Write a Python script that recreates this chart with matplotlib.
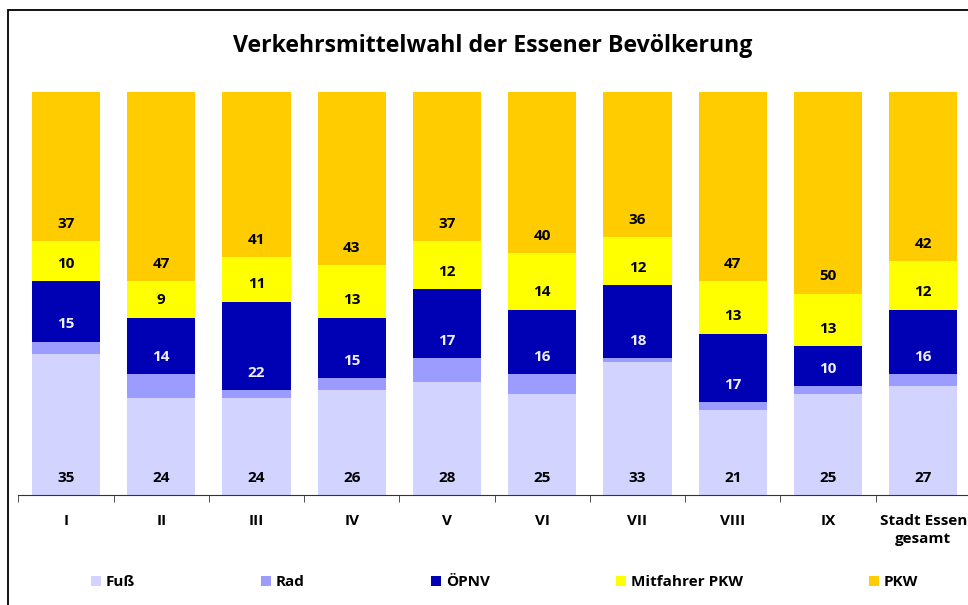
import matplotlib.pyplot as plt
from matplotlib.patches import Rectangle, Patch
import numpy as np

plt.rcParams['font.family'] = ['Open Sans', 'DejaVu Sans']
plt.rcParams['font.weight'] = 'bold'

# Data: share of trips per mode in percent
districts = ['I', 'II', 'III', 'IV', 'V', 'VI', 'VII', 'VIII', 'IX', 'Stadt Essen\ngesamt']
fuss = [35, 24, 24, 26, 28, 25, 33, 21, 25, 27]
rad = [3, 6, 2, 3, 6, 5, 1, 2, 2, 3]
oepnv = [15, 14, 22, 15, 17, 16, 18, 17, 10, 16]
mitfahrer = [10, 9, 11, 13, 12, 14, 12, 13, 13, 12]
pkw = [37, 47, 41, 43, 37, 40, 36, 47, 50, 42]

series = [('Fuß', fuss, '#D3D3FF', True, 'black'),
          ('Rad', rad, '#9C9CFF', False, 'black'),
          ('ÖPNV', oepnv, '#0000B4', True, '#EEEEFF'),
          ('Mitfahrer PKW', mitfahrer, '#FFFF00', True, 'black'),
          ('PKW', pkw, '#FFCC00', True, 'black')]

fig = plt.figure(figsize=(9.68, 6.05), dpi=100)
ax = fig.add_axes([18.4 / 968, 110 / 605, 952.5 / 968, 403 / 605])

x = np.arange(len(districts))
bottom = np.zeros(len(districts))
handles = []
for name, vals, color, show, tcolor in series:
    ax.bar(x, vals, bottom=bottom, width=0.715, color=color, edgecolor='none')
    if show:
        for xi, b, v in zip(x, bottom, vals):
            ax.annotate(str(v), xy=(xi, b), xytext=(0, 12.5), textcoords='offset points',
                        ha='center', va='center', fontsize=11, fontweight='bold', color=tcolor)
    bottom += np.array(vals)
    handles.append(Patch(facecolor=color, edgecolor='none', label=name))

ax.set_xlim(-0.5, len(districts) - 0.5)
ax.set_ylim(0, 100)
ax.set_yticks([])
for s in ['left', 'right', 'top']:
    ax.spines[s].set_visible(False)
ax.spines['bottom'].set_color('#333333')
ax.set_xticks(x)
ax.set_xticklabels(districts, fontsize=11, fontweight='bold', linespacing=1.35)
ax.tick_params(axis='x', which='major', length=0, pad=14)
ax.set_xticks(np.arange(len(districts)) - 0.5, minor=True)
ax.tick_params(axis='x', which='minor', length=5, direction='out', color='#333333')

fig.text(493 / 968, 1 - 46 / 605, 'Verkehrsmittelwahl der Essener Bevölkerung',
         ha='center', va='center', fontsize=16.7, fontweight='bold')

leg = fig.legend(handles=handles, loc='center left', bbox_to_anchor=(77 / 968, 1 - 582 / 605),
                 ncol=5, frameon=False, fontsize=11, handlelength=0.65, handleheight=0.65,
                 handletextpad=0.33, columnspacing=8.25)

# frame around the chart
fig.patches.append(Rectangle((8 / 968, -0.1), 1.2, 1 - 10 / 605 + 0.1, transform=fig.transFigure,
                             fill=False, edgecolor='black', linewidth=1.3))

fig.savefig('out.png', dpi=100)
